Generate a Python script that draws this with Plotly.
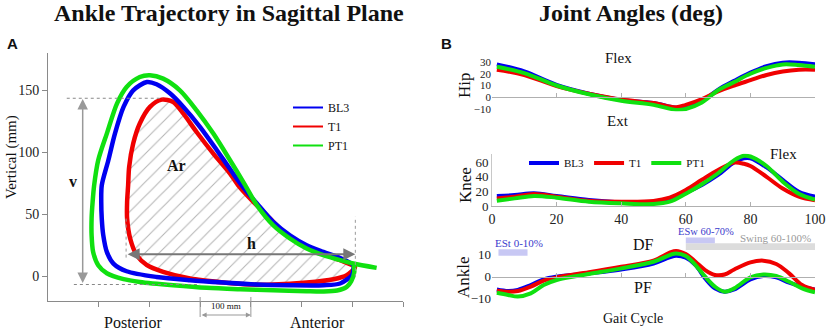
import plotly.graph_objects as go

# ---------------- Panel A: ankle trajectory in sagittal plane (mm) ----------------
BL3_X = [602, 599, 576, 543, 477, 412, 346, 280, 214, 155, 129, 116, 109, 106, 105, 106, 119, 132, 149, 168,
         195, 214, 241, 267, 300, 333, 365, 382, 412, 444, 477, 510, 543, 576, 602, 602]
BL3_Y = [4.8, 0.8, -5.9, -7.3, -7.3, -6.7, -5.1, -3.2, -0.6, 4, 10.2, 19.6, 33, 46.5, 59.9, 73.3, 93.5, 115, 136.5, 149.9,
         156.6, 154.8, 147.3, 136.5, 120.3, 101.6, 82.8, 73.3, 58.6, 43.8, 33, 25, 19.6, 14.7, 8.9, 4.8]

T1_X = [605, 589, 563, 510, 444, 398, 346, 280, 227, 195, 175, 162, 156, 156, 158, 160, 168, 181, 201, 224,
        247, 267, 293, 326, 359, 375, 405, 438, 471, 504, 543, 576, 605, 605]
T1_Y = [6.7, 0.8, -2.4, -5.1, -6.7, -6.7, -5.1, -1.9, 3.5, 8.9, 16.9, 30.4, 46.5, 59.9, 73.3, 88.1, 107, 123.1, 136.5, 142.4,
        140.5, 131.1, 116.3, 98.9, 82.8, 73.3, 59.9, 46.5, 33, 25, 18.3, 12.9, 7.5, 6.7]

PT1_X = [602, 604, 598, 589, 570, 543, 510, 444, 379, 313, 247, 181, 149, 116, 99, 89, 86, 86, 88, 91, 99, 116, 136,
         155, 181, 201, 227, 260, 293, 326, 359, 389, 412, 444, 477, 510, 543, 576, 602, 648]
PT1_Y = [10.2, 3.5, -4, -8.6, -11.5, -12.3, -12.1, -11.3, -10.5, -9.4, -7.3, -4.6, -2.4, 2.4, 8.9, 19.6, 33, 46.7, 59.9,
         73.3, 93.5, 115, 139.2, 152.6, 160.6, 162, 159.3, 149.9, 133.8, 115, 93.5, 73.3, 57.2, 41.1, 30.4, 22.3,
         16.9, 12.9, 10.2, 6.7]

A_XTICKS = [100, 200, 300, 400, 500, 600, 700]
A_YTICKS = [0, 50, 100, 150]

# ---------------- Panel B: joint angles (deg) vs gait cycle (%) ----------------
HIP_X = [1.5, 10, 20, 30, 40, 50, 57, 60, 65, 70, 75, 80, 85, 90, 95, 100]
HIP_BL3 = [28, 22, 10.5, 3, -2.3, -5, -9, -8.5, -3.5, 6.5, 14, 21, 26.5, 29.5, 29.5, 28]
HIP_T1 = [23.4, 19, 9.5, 3, -2, -5, -8.6, -6.5, -1.5, 5, 10, 14.5, 19, 22, 23.5, 23.5]
HIP_PT1 = [26, 20.6, 10, 2.5, -3, -6.5, -10.8, -10, -4.5, 6, 13, 20, 25, 28, 27.5, 26]

KNEE_X = [1.5, 7, 13, 20, 30, 40, 50, 55, 60, 65, 70, 75, 78, 80, 85, 90, 95, 100]
KNEE_BL3 = [13.8, 15, 17.4, 13.8, 8.3, 5, 3.7, 7, 18, 29, 42.7, 60, 65.6, 65.5, 53, 36, 19.7, 13]
KNEE_T1 = [10.5, 12.8, 16.5, 12.8, 7.3, 6, 7, 11.5, 22, 36, 49.5, 59.6, 58, 55, 40, 24, 13, 8]
KNEE_PT1 = [7.3, 10.5, 13.8, 11.5, 6, 3.7, 2.8, 6, 17, 30, 45, 63, 69, 68, 55, 33.5, 17, 9]

ANK_X = [1.5, 5, 8, 12, 16, 20, 30, 40, 50, 55, 57, 60, 63, 66, 69, 72, 75, 80, 84, 88, 92, 96, 100]
ANK_BL3 = [-5.8, -6.5, -6, -3.8, -1.2, 0, 1.5, 3.3, 6, 8.8, 9.5, 8.6, 5.3, -0.8, -5.3, -6.8, -5.8, -1.2, 0.3, -0.3,
           -2.7, -4.5, -5.8]
ANK_T1 = [-6.4, -6.8, -6.5, -4.5, -1.8, -0.3, 2, 4.5, 7.3, 10.9, 11.7, 10.3, 6.8, 3, 0.8, 1, 3.3, 6.5, 7.3, 5.8,
          1.5, -3.8, -6]
ANK_PT1 = [-7.3, -8.3, -9, -7.6, -3.8, -1.5, 1.2, 3.8, 6.8, 9.8, 10.6, 9.4, 5.3, 0, -4.5, -6.8, -5.3, -0.3, 1, 0.3,
           -2.3, -5.3, -7.1]

GAIT_TICKS = [0, 20, 40, 60, 80, 100]
HIP_TICKS = [-10, 0, 10, 20, 30]
KNEE_TICKS = [0, 20, 40, 60]
ANK_TICKS = [-10, 0, 10]

# phase bars (gait cycle %)
EST = [2, 11]
ESW = [60, 69]
SWING = [60, 100]

NAMES = ["BL3", "T1", "PT1"]
COLORS = {"BL3": "#0000f0", "T1": "#f00000", "PT1": "#10e010"}

SERIF = "Liberation Serif"
GRAY = "#8a8a8a"
W, H = 829, 331


def px_x(p):
    return p / W


def px_y(p):
    return (H - p) / H


fig = go.Figure()

# ---- Panel A traces ----
fig.add_trace(go.Scatter(x=T1_X, y=T1_Y, mode="lines", line=dict(color=COLORS["T1"], width=4.5, shape="spline", smoothing=0.8),
                         fill="toself", fillcolor="rgba(0,0,0,0)",
                         fillpattern=dict(shape="/", fgcolor="#6a6a6a", size=10, solidity=0.1, bgcolor="rgba(0,0,0,0)"),
                         xaxis="x", yaxis="y", showlegend=False, hoverinfo="skip"))
fig.add_trace(go.Scatter(x=BL3_X, y=BL3_Y, mode="lines", line=dict(color=COLORS["BL3"], width=4.5, shape="spline", smoothing=0.8),
                         xaxis="x", yaxis="y", showlegend=False))
fig.add_trace(go.Scatter(x=PT1_X, y=PT1_Y, mode="lines", line=dict(color=COLORS["PT1"], width=4.5, shape="spline", smoothing=0.8),
                         xaxis="x", yaxis="y", showlegend=False))
# legend entries for panel A (thin lines)
for n in NAMES:
    fig.add_trace(go.Scatter(x=[None], y=[None], mode="lines", name=n, line=dict(color=COLORS[n], width=2),
                             xaxis="x", yaxis="y", legend="legend", showlegend=True))

# ---- Panel B traces ----
for n, hip, knee, ank in [("BL3", HIP_BL3, KNEE_BL3, ANK_BL3), ("T1", HIP_T1, KNEE_T1, ANK_T1),
                          ("PT1", HIP_PT1, KNEE_PT1, ANK_PT1)]:
    ln = dict(color=COLORS[n], width=4, shape="spline")
    fig.add_trace(go.Scatter(x=HIP_X, y=hip, mode="lines", line=ln, xaxis="x2", yaxis="y2", showlegend=False))
    fig.add_trace(go.Scatter(x=KNEE_X, y=knee, mode="lines", line=ln, xaxis="x3", yaxis="y3", name=n,
                             legend="legend2", showlegend=True))
    fig.add_trace(go.Scatter(x=ANK_X, y=ank, mode="lines", line=ln, xaxis="x4", yaxis="y4", showlegend=False))

tickfont = dict(family=SERIF, size=14, color="#222")
tickfont_s = dict(family=SERIF, size=13, color="#222")
tickfont_xs = dict(family=SERIF, size=11, color="#222")

RX = [px_x(492), px_x(815)]

fig.update_layout(
    width=W, height=H, autosize=False,
    margin=dict(l=0, r=0, t=0, b=0, autoexpand=False),
    paper_bgcolor="white", plot_bgcolor="rgba(0,0,0,0)",
    font=dict(family=SERIF, color="#111"),
    xaxis=dict(domain=[px_x(48), px_x(403)], range=[0, 700], anchor="y", showgrid=False, zeroline=False,
               showline=True, linecolor=GRAY, linewidth=1, ticks="outside", ticklen=5, tickcolor=GRAY,
               tickvals=A_XTICKS, showticklabels=False),
    yaxis=dict(domain=[px_y(301), px_y(53)], range=[-20, 180], anchor="x", showgrid=False, zeroline=False,
               showline=True, linecolor=GRAY, linewidth=1, ticks="outside", ticklen=5, tickcolor=GRAY,
               tickvals=A_YTICKS, tickfont=tickfont),
    # Hip
    xaxis2=dict(domain=RX, range=[0, 100], anchor="free", position=px_y(97), showgrid=False, zeroline=False,
                showline=True, linecolor="#b0b0b0", ticks="inside", ticklen=4, tickcolor="#b0b0b0",
                tickvals=GAIT_TICKS[1:], showticklabels=False),
    yaxis2=dict(domain=[px_y(111.3), px_y(59.7)], range=[-12, 32], anchor="x2", showgrid=False, zeroline=False,
                showline=False, tickvals=HIP_TICKS, tickfont=tickfont_xs),
    # Knee
    xaxis3=dict(domain=RX, range=[0, 100], anchor="y3", showgrid=False, zeroline=False,
                showline=True, linecolor="#b0b0b0", ticks="inside", ticklen=4, tickcolor="#b0b0b0",
                tickvals=GAIT_TICKS, tickfont=tickfont),
    yaxis3=dict(domain=[px_y(206.4), px_y(153.6)], range=[-0.5, 72], anchor="x3", showgrid=False, zeroline=False,
                showline=True, linecolor="#c8c8c8", tickvals=KNEE_TICKS, tickfont=tickfont_s),
    # Ankle
    xaxis4=dict(domain=RX, range=[0, 100], anchor="free", position=px_y(276.7), showgrid=False, zeroline=False,
                showline=True, linecolor="#b0b0b0", ticks="inside", ticklen=4, tickcolor="#b0b0b0",
                tickvals=GAIT_TICKS[1:], showticklabels=False),
    yaxis4=dict(domain=[px_y(299.8), px_y(236)], range=[-10.5, 18.5], anchor="x4", showgrid=False, zeroline=False,
                showline=False, tickvals=ANK_TICKS, tickfont=tickfont_s),
    legend=dict(x=px_x(288), y=px_y(93), xanchor="left", yanchor="top", bgcolor="rgba(0,0,0,0)",
                font=dict(family=SERIF, size=12, color="#111"), tracegroupgap=0),
    legend2=dict(orientation="h", x=px_x(524), y=px_y(163), xanchor="left", yanchor="middle",
                 bgcolor="rgba(0,0,0,0)", font=dict(family=SERIF, size=11, color="#111")),
)

shapes = []
# dotted guides in panel A
shapes.append(dict(type="line", xref="x", yref="y", x0=37, x1=227, y0=143.5, y1=143.5,
                   line=dict(color="#888", width=1, dash="dot")))
shapes.append(dict(type="line", xref="x", yref="y", x0=51, x1=300, y0=-6.7, y1=-6.7,
                   line=dict(color="#888", width=1, dash="dot")))
shapes.append(dict(type="line", xref="x", yref="y", x0=154, x1=154, y0=15, y1=47,
                   line=dict(color="#999", width=1, dash="dot")))
shapes.append(dict(type="line", xref="x", yref="y", x0=606, x1=606, y0=-0.5, y1=48,
                   line=dict(color="#999", width=1, dash="dot")))
# 100 mm scale bracket
for xv in (300, 400):
    shapes.append(dict(type="line", xref="x", yref="paper", x0=xv, x1=xv, y0=px_y(317), y1=px_y(297),
                       line=dict(color="#999", width=1)))
# phase bars in ankle panel
shapes.append(dict(type="rect", xref="x4", yref="y4", x0=EST[0], x1=EST[1], y0=9.5, y1=12.5,
                   fillcolor="#c8c8f4", line=dict(width=0), layer="below"))
shapes.append(dict(type="rect", xref="x4", yref="y4", x0=SWING[0], x1=SWING[1], y0=12.1, y1=15.2,
                   fillcolor="#dcdcdc", line=dict(width=0), layer="below"))
shapes.append(dict(type="rect", xref="x4", yref="y4", x0=ESW[0], x1=ESW[1], y0=15.2, y1=17.8,
                   fillcolor="#c8c8f4", line=dict(width=0), layer="below"))
fig.update_layout(shapes=shapes)

ann = []


def txt(t, x, y, size, xref="paper", yref="paper", bold=False, color="#111", family=SERIF, angle=0,
        xanchor="center", yanchor="middle"):
    ann.append(dict(text=f"<b>{t}</b>" if bold else t, x=x, y=y, xref=xref, yref=yref, showarrow=False,
                    font=dict(family=family, size=size, color=color), textangle=angle,
                    xanchor=xanchor, yanchor=yanchor))


txt("Ankle Trajectory in Sagittal Plane", px_x(229), px_y(13), 24, bold=True)
txt("Joint Angles (deg)", px_x(631), px_y(13), 24, bold=True)
txt("A", px_x(12), px_y(43), 15, bold=True, family="Liberation Sans")
txt("B", px_x(447), px_y(43), 15, bold=True, family="Liberation Sans")
txt("Vertical (mm)", px_x(11), px_y(157), 15, angle=-90)
txt("Posterior", px_x(133), px_y(322), 16)
txt("Anterior", px_x(317), px_y(322), 16)
txt("100 mm", 350, px_y(306), 9, xref="x")
txt("v", 49, 76, 16, xref="x", yref="y", bold=True)
txt("h", 402, 26, 16, xref="x", yref="y", bold=True)
txt("Ar", 254, 89.5, 16, xref="x", yref="y", bold=True)

txt("Hip", px_x(465), px_y(85), 17, angle=-90)
txt("Knee", px_x(465), px_y(185), 17, angle=-90)
txt("Ankle", px_x(463), px_y(277), 17, angle=-90)
txt("Flex", px_x(618), px_y(58), 15)
txt("Ext", px_x(618), px_y(121), 15)
txt("Flex", px_x(783), px_y(154), 15)
txt("DF", px_x(643), px_y(245), 16)
txt("PF", px_x(643), px_y(287), 16)
txt("Gait Cycle", px_x(633), px_y(318), 14)
txt("ESt 0-10%", px_x(493), px_y(243), 11, color="#3a3acc", xanchor="left")
txt("ESw 60-70%", px_x(676), px_y(232), 10.5, color="#3a3acc", xanchor="left")
txt("Swing 60-100%", px_x(813), px_y(238), 11, color="#9a9a9a", xanchor="right")

# arrows
ann.append(dict(x=68.4, y=143, ax=68.4, ay=-6.7, xref="x", yref="y", axref="x", ayref="y", text="",
                showarrow=True, arrowside="end+start", arrowhead=2, arrowsize=1.4, arrowwidth=1.5,
                arrowcolor="#999"))
ann.append(dict(x=606, y=17.7, ax=154, ay=17.7, xref="x", yref="y", axref="x", ayref="y", text="",
                showarrow=True, arrowside="end+start", arrowhead=2, arrowsize=1.2, arrowwidth=2,
                arrowcolor="#777"))
ann.append(dict(x=400, y=px_y(315), ax=300, ay=0, xref="x", yref="paper", axref="x", ayref="pixel", text="",
                showarrow=True, arrowside="end+start", arrowhead=2, arrowsize=1, arrowwidth=1,
                arrowcolor="#999"))
fig.update_layout(annotations=ann)

fig.write_html("out.html",
               config={"responsive": False, "displayModeBar": False, "staticPlot": True},
               post_script="document.body.style.margin='0px';document.body.style.padding='0px';"
                           "document.body.style.overflow='hidden';")
